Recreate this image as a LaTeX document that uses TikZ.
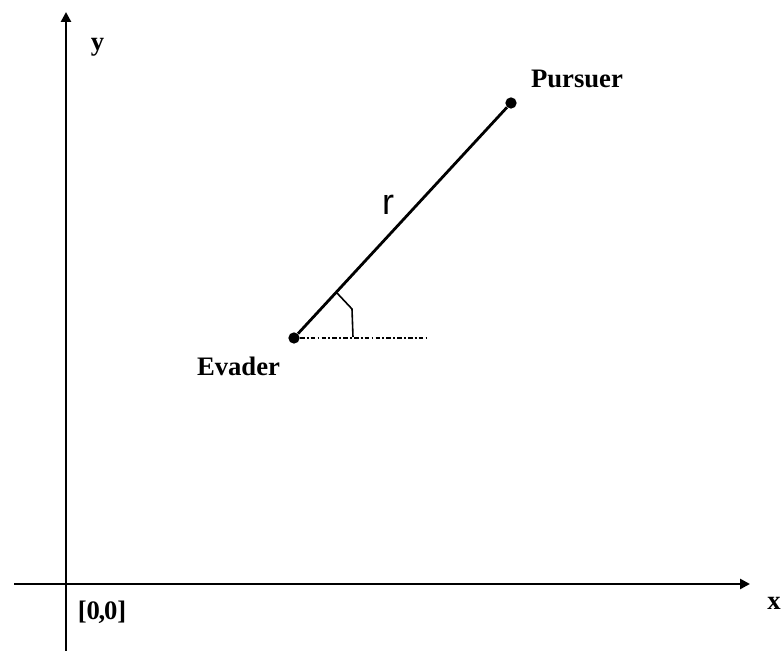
\documentclass[tikz,border=0pt]{standalone}
\usepackage{fontspec}
\setmainfont{Liberation Serif}
\setsansfont{Liberation Sans}
\usepackage{tikz}
\usetikzlibrary{arrows.meta, positioning, calc}
\tikzset{
  % axes
  axis/.style={draw=black, line width=2.1pt,
               -{Triangle[length=7.5pt, width=7.5pt]}},
  axisneg/.style={draw=black, line width=1.1pt},
  % points on the plane
  agent/.style={circle, fill=black, inner sep=0pt, minimum size=8.5pt},
  % bold labels
  lbl/.style={font=\fontsize{20}{24}\selectfont\bfseries, inner sep=0pt},
  % line of sight and its reference
  sight/.style={draw=black, line width=2.1pt},
  refline/.style={draw=black, line width=1.3pt,
                  dash pattern=on 3.5pt off 1.6pt on 1.4pt off 1.6pt},
  anglemark/.style={draw=black, line width=1.2pt},
}
\begin{document}
\begin{tikzpicture}[x=0.75pt, y=0.75pt]
\useasboundingbox (0,0) rectangle (783,652);

% ── Axes ─────────────────────────────────────────────────────────────────────
\coordinate (origin) at (66, 68);
\coordinate (xneg)   at (14, 68);
\coordinate (yneg)   at (66, 1);
\coordinate (xend)   at (750, 68);
\coordinate (yend)   at (66, 640);
\draw[axisneg] (xneg) -- (origin);
\draw[axisneg] (yneg) -- (origin);
\draw[axis] (origin) -- (xend);
\draw[axis] (origin) -- (yend);

\node[lbl] (xlabel) at (774, 48.5)  {x};
\node[lbl] (ylabel) at (97.5, 604.5) {y};
\node[lbl] (olabel) at (102, 39.5)  {[0\kern-1pt,\kern-1pt0]};

% ── Evader and pursuer ───────────────────────────────────────────────────────
\node[agent] (evader)  at (294, 314) {};
\node[agent] (pursuer) at (511, 549) {};
\node[lbl] (evaderlabel)  at (238.5, 285.5) {Evader};
\node[lbl] (pursuerlabel) at (577, 573)     {Pursuer};

\draw[sight] (evader) -- (pursuer);
\node[font=\fontsize{27}{30}\selectfont\sffamily, inner sep=0pt] (rlabel)
  at (388, 447) {r};

% reference line and angle
\coordinate (refend) at (427, 314);
\draw[refline] (evader.east) -- (refend);
\draw[anglemark] ($(evader.center)+(43,45)$) -- ($(evader.center)+(58,29)$)
  -- ($(evader.center)+(59,1)$);

\end{tikzpicture}
\end{document}
